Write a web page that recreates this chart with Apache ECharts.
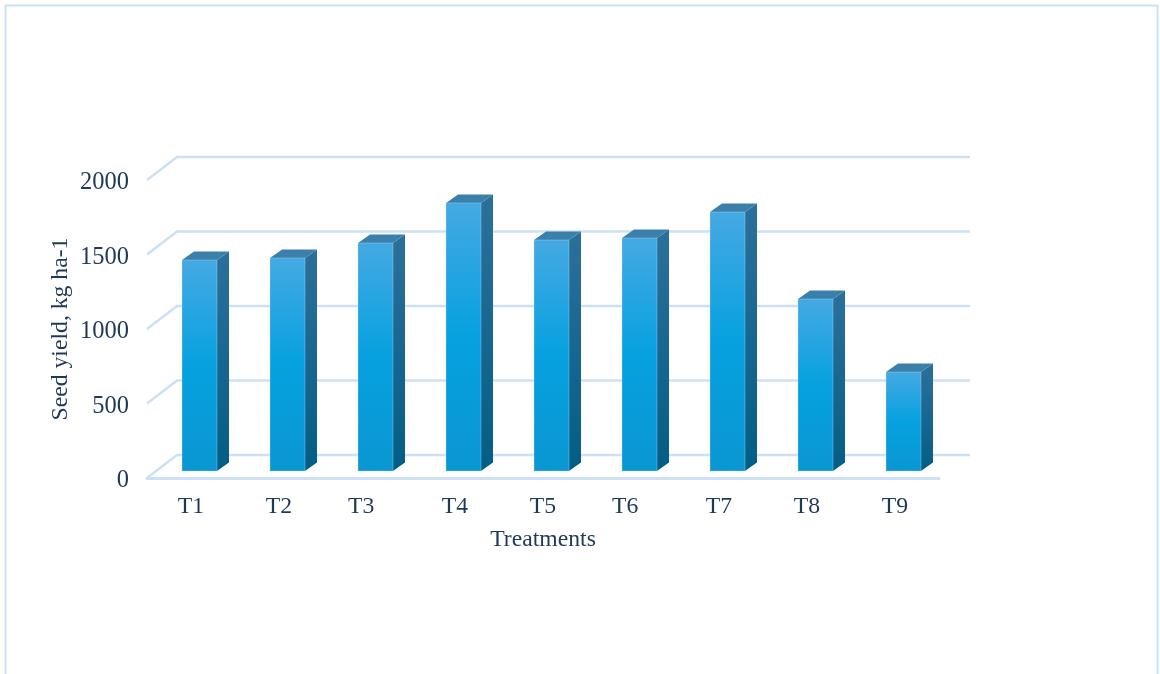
<!DOCTYPE html>
<html><head><meta charset="utf-8">
<style>html,body{margin:0;padding:0;background:#fff}#c{width:1160px;height:674px}</style>
<script src="https://cdn.jsdelivr.net/npm/echarts@6/dist/echarts.min.js"></script>
</head><body><div id="c"></div>
<script>
const categories = ['T1','T2','T3','T4','T5','T6','T7','T8','T9'];
const seedYield = [1416,1430,1530,1799,1550,1564,1738,1154,664];
const yTicks = [0,500,1000,1500,2000];
const leftShifted = ['T3','T6'];
const yTitle = 'Seed yield, kg ha-1';
const xTitle = 'Treatments';

const textColor = '#1f3a57', gridColor = '#cde1f4';
const WALL_DX = 30, WALL_DY = -23;
const BAR_DX = 8.5, BAR_DY = -7, BAR_W = 35, DEPTH_DX = 12, DEPTH_DY = -8.5;
const vGrad = (a,b,c)=>new echarts.graphic.LinearGradient(0,0,0,1,c?[{offset:0,color:a},{offset:.5,color:b},{offset:1,color:c}]:[{offset:0,color:a},{offset:1,color:b}]);

function renderGrid(params, api){
  const p = api.coord([0, api.value(1)]);
  const cs = params.coordSys, x0 = cs.x, x1 = cs.x + cs.width;
  return {type:'polyline', silent:true,
    shape:{points:[[x0,p[1]],[x0+WALL_DX,p[1]+WALL_DY],[x1+WALL_DX+1,p[1]+WALL_DY]]},
    style:{fill:null, stroke:gridColor, lineWidth:2.5}};
}
function renderBar(params, api){
  const top = api.coord([api.value(0), api.value(1)]);
  const base = api.coord([api.value(0), 0]);
  const l = top[0] - BAR_W/2 + BAR_DX, r = l + BAR_W;
  const t = top[1] + BAR_DY, b = base[1] + BAR_DY;
  const dx = DEPTH_DX, dy = DEPTH_DY;
  return {type:'group', children:[
    {type:'polygon', shape:{points:[[r,t],[r+dx,t+dy],[r+dx,b+dy],[r,b]]},
     style:{fill:vGrad('#2c709b','#035d86')}},
    {type:'polygon', shape:{points:[[l,t],[l+dx,t+dy],[r+dx,t+dy],[r,t]]},
     style:{fill:'#3a80ab'}},
    {type:'rect', shape:{x:l,y:t,width:BAR_W,height:b-t},
     style:{fill:vGrad('#45a9e3','#06a1e0','#0a96d2'), stroke:'rgba(190,225,245,.35)', lineWidth:1}}
  ]};
}
const chart = echarts.init(document.getElementById('c'), null, {renderer:'canvas'});
chart.setOption({
  animation:false,
  backgroundColor:'#fff',
  textStyle:{fontFamily:'Liberation Serif'},
  graphic:[{type:'rect', silent:true, z:0, shape:{x:5.5,y:5.5,width:1152,height:720},
    style:{fill:null, stroke:gridColor, lineWidth:2}}],
  grid:{left:147,right:221,top:180,bottom:196},
  xAxis:{type:'category', data:categories,
    axisLine:{show:true, lineStyle:{color:gridColor,width:3}},
    axisTick:{show:false},
    axisLabel:{color:textColor,fontSize:23.7,margin:17,fontFamily:'Liberation Serif',
      formatter:v=>leftShifted.includes(v)?v+'  ':v},
    name:xTitle,nameLocation:'middle',nameGap:50,
    nameTextStyle:{color:textColor,fontSize:23.7,fontFamily:'Liberation Serif'}},
  yAxis:{type:'value',min:0,max:2000,interval:500,
    axisLine:{show:false},axisTick:{show:false},splitLine:{show:false},
    axisLabel:{color:textColor,fontSize:24.5,margin:18,fontFamily:'Liberation Serif',
      formatter:v=>String(v),verticalAlign:'top',lineHeight:24,padding:[-9,0,0,0]},
    name:yTitle,nameLocation:'middle',nameGap:74,nameMoveOverlap:false,
    nameTextStyle:{color:textColor,fontSize:23.7,fontFamily:'Liberation Serif'}},
  series:[
    {type:'custom',z:1,clip:false,silent:true,renderItem:renderGrid,
     data:yTicks.map(v=>[0,v]),encode:{x:0,y:1}},
    {type:'custom',z:2,clip:false,silent:true,renderItem:renderBar,
     data:seedYield.map((v,i)=>[i,v]),encode:{x:0,y:1}}
  ]
});
</script></body></html>
